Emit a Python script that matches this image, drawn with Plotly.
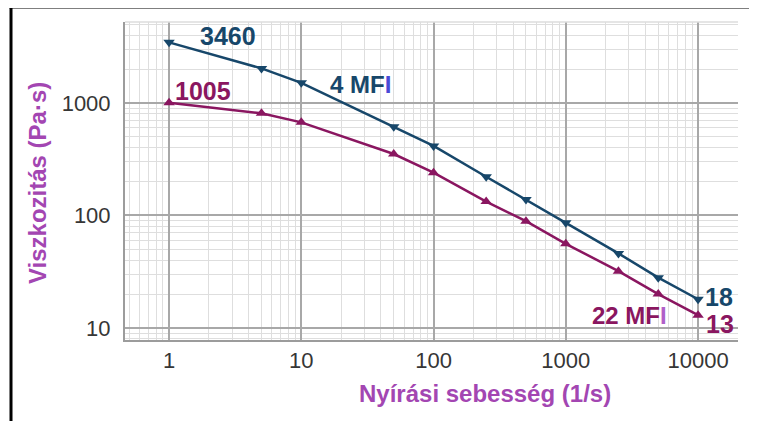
import math
import plotly.graph_objects as go

# ---- data ----
shear_rate = [1, 5, 10, 50, 100, 250, 500, 1000, 2500, 5000, 10000]
visc_4mfi = [3460, 2030, 1510, 615, 415, 221, 139, 86, 46, 28, 18]
visc_22mfi = [1005, 810, 673, 352, 240, 133, 89, 56, 32, 20, 13]
series_names = ["4 MFI", "22 MFI"]
x_tick_vals = [1, 10, 100, 1000, 10000]
x_tick_text = ["1", "10", "100", "1000", "10000"]
y_tick_vals = [10, 100, 1000]
y_tick_text = ["10", "100", "1000"]
x_title = "Nyírási sebesség (1/s)"
y_title = "Viszkozitás (Pa·s)"

NAVY = "#17476a"
MAG = "#8a1660"
TITLE_COL = "#a346b2"
FONT = "Liberation Sans, Arial, sans-serif"

fig = go.Figure()
fig.add_trace(go.Scatter(
    x=shear_rate, y=visc_4mfi, mode="lines+markers", name=series_names[0],
    line=dict(color=NAVY, width=2.5),
    marker=dict(symbol="triangle-down", size=10, color=NAVY),
))
fig.add_trace(go.Scatter(
    x=shear_rate, y=visc_22mfi, mode="lines+markers", name=series_names[1],
    line=dict(color=MAG, width=2.5),
    marker=dict(symbol="triangle-up", size=10, color=MAG),
))

OFF = 8  # page body margin
W, H = 757 - OFF, 421 - OFF
L, T = 125 - OFF, 22 - OFF
R = W - (738 - OFF)
B = H - (340 - OFF)
pw, ph = W - L - R, H - T - B


def px(xp):  # page pixel -> paper
    return (xp - OFF - L) / pw


def py(yp):
    return (H - B - (yp - OFF)) / ph


axis_common = dict(
    showline=True, linecolor="#9c9c9c", linewidth=2,
    showgrid=True, gridcolor="#a8a8a8", gridwidth=1.5,
    ticks="", zeroline=False,
    tickfont=dict(family=FONT, size=22, color="#363636"),
    minor=dict(dtick="D1", showgrid=True, gridcolor="#dedede", gridwidth=1),
)

fig.update_xaxes(type="log", range=[-0.333, 4.302], tickmode="array",
                 tickvals=x_tick_vals, ticktext=x_tick_text, ticklabelstandoff=0,
                 **axis_common)
fig.update_yaxes(type="log", range=[0.893, 3.72], tickmode="array",
                 tickvals=y_tick_vals, ticktext=y_tick_text, ticklabelstandoff=8,
                 **axis_common)

num_font = dict(family=FONT, size=25)
lab_font = dict(family=FONT, size=24)
annotations = [
    dict(x=math.log10(shear_rate[0]), y=math.log10(visc_4mfi[0]), xref="x", yref="y",
         text=str(visc_4mfi[0]), xanchor="left", yanchor="middle", xshift=29, yshift=6,
         showarrow=False, font=dict(color=NAVY, **num_font)),
    dict(x=math.log10(shear_rate[0]), y=math.log10(visc_22mfi[0]), xref="x", yref="y",
         text=str(visc_22mfi[0]), xanchor="left", yanchor="middle", xshift=4, yshift=12,
         showarrow=False, font=dict(color=MAG, **num_font)),
    dict(x=math.log10(shear_rate[-1]), y=math.log10(visc_4mfi[-1]), xref="x", yref="y",
         text=str(visc_4mfi[-1]), xanchor="left", yanchor="middle", xshift=5, yshift=2,
         showarrow=False, font=dict(color=NAVY, **num_font)),
    dict(x=math.log10(shear_rate[-1]), y=math.log10(visc_22mfi[-1]), xref="x", yref="y",
         text=str(visc_22mfi[-1]), xanchor="left", yanchor="middle", xshift=6, yshift=-9,
         showarrow=False, font=dict(color=MAG, **num_font)),
    dict(x=px(328), y=py(85), xref="paper", yref="paper",
         text="4 MF<span style='color:#4a4ad6'>I</span>", xanchor="left", yanchor="middle",
         showarrow=False, font=dict(color=NAVY, **lab_font)),
    dict(x=px(590), y=py(315), xref="paper", yref="paper",
         text="22 MF<span style='color:#b060c8'>I</span>", xanchor="left", yanchor="middle",
         showarrow=False, font=dict(color=MAG, **lab_font)),
    dict(x=px(485), y=py(393), xref="paper", yref="paper", text=f"<b>{x_title}</b>",
         xanchor="center", yanchor="middle", showarrow=False,
         font=dict(family=FONT, size=24, color=TITLE_COL)),
    dict(x=px(37), y=py(183), xref="paper", yref="paper", text=f"<b>{y_title}</b>",
         textangle=-90, xanchor="center", yanchor="middle", showarrow=False,
         font=dict(family=FONT, size=24, color=TITLE_COL)),
]
for a in annotations[:6]:
    a["text"] = f"<b>{a['text']}</b>"
fig.update_layout(annotations=annotations)

shapes = [
    # outer black frame (left and top edges)
    dict(type="line", xref="paper", yref="paper", x0=px(11), x1=px(11), y0=py(430), y1=py(7),
         line=dict(color="black", width=3)),
    dict(type="line", xref="paper", yref="paper", x0=px(9.5), x1=px(770), y0=py(7), y1=py(7),
         line=dict(color="black", width=3)),
    # faint top edge of plot area
    dict(type="line", xref="paper", yref="paper", x0=0, x1=1, y0=1, y1=1,
         line=dict(color="#dcdcdc", width=1.5)),
]
fig.update_layout(shapes=shapes)

fig.update_layout(
    width=W, height=H,
    margin=dict(l=L, r=R, t=T, b=B, pad=0),
    paper_bgcolor="white", plot_bgcolor="white",
    showlegend=False,
    font=dict(family=FONT),
)

fig.write_html("out.html")
